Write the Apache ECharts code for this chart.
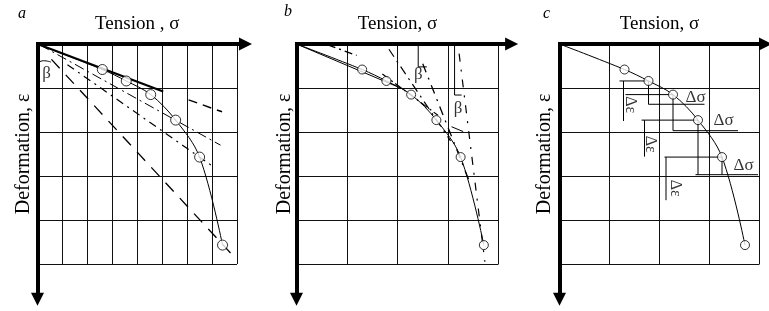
<!DOCTYPE html>
<html>
<head>
<meta charset="utf-8">
<script src="https://cdn.jsdelivr.net/npm/echarts/dist/echarts.min.js"></script>
<style>
  html, body { margin: 0; padding: 0; background: #fff; }
  #chart { width: 769px; height: 311px; }
</style>
</head>
<body>
<div id="chart"></div>
<script>
  // measured points, same curve in all three panels (sigma in grid units of b and c)
  var sigma = [1.3, 1.78, 2.27, 2.77, 3.25, 3.71]
  var eps = [0.58, 0.84, 1.15, 1.73, 2.57, 4.57]

  // panel a: initial tangent and secants
  var aChordSolid = [[0, 0], [2.52, 1.08]]
  var aChordDashed = [[3.03, 1.27], [3.7, 1.54]]
  var aSecant4 = [[0.05, 0.02], [3.67, 2.3]]
  var aSecant5 = [[0.6, 0.47], [3.5, 2.77]]
  var aSecant6 = [[0.28, 0.35], [3.87, 4.75]]
  var aBetaArc = [[0, 0.43], [0.12, 0.38], [0.27, 0.41]]
  var aBeta = [[0.18, 0.67]]

  // panel b: tangents and angle marks
  var bChord = [[0, 0], [2.12, 1.03]]
  var bDash = [[0.62, 0.02], [1.19, 0.26]]
  var bTangent3 = [[1.7, 0.68], [2.8, 1.62]]
  var bTangent4 = [[1.83, 0.12], [3.05, 2.2]]
  var bTangent5 = [[2.5, 0.45], [3.45, 3.2]]
  var bTangent6 = [[3.22, 0.22], [3.73, 4.95]]
  var bRef1 = [[2.41, 0.02], [2.41, 0.52], [2.58, 0.52]]
  var bRef2 = [[3.13, 0.02], [3.13, 1.16], [3.27, 1.16]]
  var bTick = [[3.07, 1.88], [3.3, 1.99]]
  var bBeta = [[2.41, 0.7], [3.2, 1.46]]

  // panel c: increments
  var cSteps = [
    [[1.2, 0.84], [1.78, 0.84]],
    [[1.28, 0.84], [1.28, 1.75]],
    [[1.78, 0.84], [1.78, 1.37]],
    [[1.32, 1.15], [2.27, 1.15]],
    [[1.78, 1.37], [2.9, 1.37]],
    [[2.27, 1.15], [2.27, 1.97]],
    [[1.64, 1.73], [2.77, 1.73]],
    [[1.7, 1.73], [1.7, 2.56]],
    [[2.27, 1.97], [3.57, 1.97]],
    [[2.77, 1.73], [2.77, 2.97]],
    [[2.1, 2.57], [3.25, 2.57]],
    [[2.13, 2.57], [2.13, 3.55]],
    [[3.25, 2.57], [3.25, 2.97]],
    [[2.72, 2.97], [3.97, 2.97]]
  ]
  var cDeltaEps = [[1.41, 1.38], [1.82, 2.28], [2.32, 3.28]]
  var cDeltaSigma = [[2.72, 1.22], [3.28, 1.75], [3.68, 2.77]]

  // axis arrow tips
  var xTips = [4.17, 4.26, 4.12]
  var yTip = 5.8

  var serif = 'Liberation Serif'
  var points = sigma.map(function (s, i) { return [s, eps[i]] })
  var curve = [[0, 0]].concat(points)

  function seg (data, g, type, width) {
    return {
      type: 'line', xAxisIndex: g, yAxisIndex: g, data: data, symbol: 'none',
      silent: true, animation: false,
      lineStyle: {color: '#000', width: width || 1, type: type || 'solid'}
    }
  }

  function texts (items, g, text, size, rotate) {
    return {
      type: 'scatter', xAxisIndex: g, yAxisIndex: g, symbolSize: 1, silent: true, animation: false,
      itemStyle: {color: 'rgba(0,0,0,0)'},
      data: items,
      label: {show: true, position: 'inside', formatter: text, color: '#000',
        fontFamily: serif, fontSize: size, rotate: rotate || 0},
      z: 5
    }
  }

  var series = []
  var grids = [
    {left: 37.5, top: 44, width: 199.5, height: 220},
    {left: 296.5, top: 44, width: 202, height: 220},
    {left: 559.5, top: 44, width: 200, height: 220}
  ]
  var xNames = ['Tension , σ', 'Tension, σ', 'Tension, σ']
  var yGaps = [4, 2, 5]

  for (var g = 0; g < 3; g++) {
    series.push(seg(curve, g, 'solid', 1))
    series[series.length - 1].smooth = 0.35
    series.push({
      type: 'scatter', xAxisIndex: g, yAxisIndex: g, data: points, symbol: 'circle',
      symbolSize: g === 0 ? 10 : 9, animation: false, silent: true, z: 4,
      itemStyle: {color: '#fff', borderColor: '#000', borderWidth: 1}
    })
    series.push({
      type: 'lines', coordinateSystem: 'cartesian2d', xAxisIndex: g, yAxisIndex: g,
      clip: false, animation: false, silent: true, z: 6,
      symbol: ['none', 'triangle'], symbolSize: [11, 13],
      lineStyle: {color: '#000', width: 4, opacity: 1},
      data: [
        {coords: [[-0.03, 0], [xTips[g], 0]]},
        {coords: [[0, -0.04], [0, yTip]]}
      ]
    })
  }

  // panel a
  series.push(seg(aChordSolid, 0, 'solid', 2))
  series.push(seg(aChordDashed, 0, [9, 6], 1.5))
  series.push(seg(aSecant4, 0, [10, 4, 2, 4], 1))
  series.push(seg(aSecant5, 0, [8, 5, 2, 5], 1.2))
  series.push(seg(aSecant6, 0, [12, 9], 1.3))
  var arc = seg(aBetaArc, 0, 'solid', 1)
  arc.smooth = true
  series.push(arc)
  series.push(texts(aBeta, 0, 'β', 17))

  // panel b
  series.push(seg(bChord, 1, 'solid', 1))
  series.push(seg(bDash, 1, [8, 4, 2, 4], 1.4))
  series.push(seg(bTangent3, 1, [8, 3, 2, 3], 1.2))
  series.push(seg(bTangent4, 1, [9, 5, 2, 5], 1.2))
  series.push(seg(bTangent5, 1, [9, 6, 2, 6], 1.3))
  series.push(seg(bTangent6, 1, [8, 8, 2, 8], 1.2))
  series.push(seg(bRef1, 1, 'solid', 1))
  series.push(seg(bRef2, 1, 'solid', 1))
  series.push(seg(bTick, 1, 'solid', 1))
  series.push(texts(bBeta, 1, 'β', 17))

  // panel c
  cSteps.forEach(function (s) { series.push(seg(s, 2, 'solid', 1)) })
  series.push(texts(cDeltaEps, 2, 'Δε', 16, -90))
  series.push(texts(cDeltaSigma, 2, 'Δσ', 17))

  var option = {
    backgroundColor: '#fff',
    animation: false,
    grid: grids,
    xAxis: grids.map(function (gr, i) {
      return {
        type: 'value', gridIndex: i, min: 0, max: 4, interval: i === 0 ? 0.5 : 1,
        position: 'top',
        axisLine: {show: false}, axisTick: {show: false}, axisLabel: {show: false},
        splitLine: {show: true, lineStyle: {color: '#111', width: 1}},
        name: xNames[i], nameLocation: 'middle', nameGap: 10,
        nameTextStyle: {fontFamily: serif, fontSize: 19, color: '#000'}
      }
    }),
    yAxis: grids.map(function (gr, i) {
      return {
        type: 'value', gridIndex: i, min: 0, max: 5, interval: 1, inverse: true,
        axisLine: {show: false}, axisTick: {show: false}, axisLabel: {show: false},
        splitLine: {show: true, lineStyle: {color: '#111', width: 1}},
        name: 'Deformation, ε', nameLocation: 'middle', nameGap: yGaps[i],
        nameTextStyle: {fontFamily: serif, fontSize: 20, color: '#000'}
      }
    }),
    graphic: [
      {type: 'text', left: 18, top: 6, style: {text: 'a', font: 'italic 16px "Liberation Serif"', fill: '#000'}},
      {type: 'text', left: 284, top: 4, style: {text: 'b', font: 'italic 16px "Liberation Serif"', fill: '#000'}},
      {type: 'text', left: 543, top: 6, style: {text: 'c', font: 'italic 16px "Liberation Serif"', fill: '#000'}}
    ],
    series: series
  }

  var chart = echarts.init(document.getElementById('chart'))
  chart.setOption(option)
</script>
</body>
</html>
